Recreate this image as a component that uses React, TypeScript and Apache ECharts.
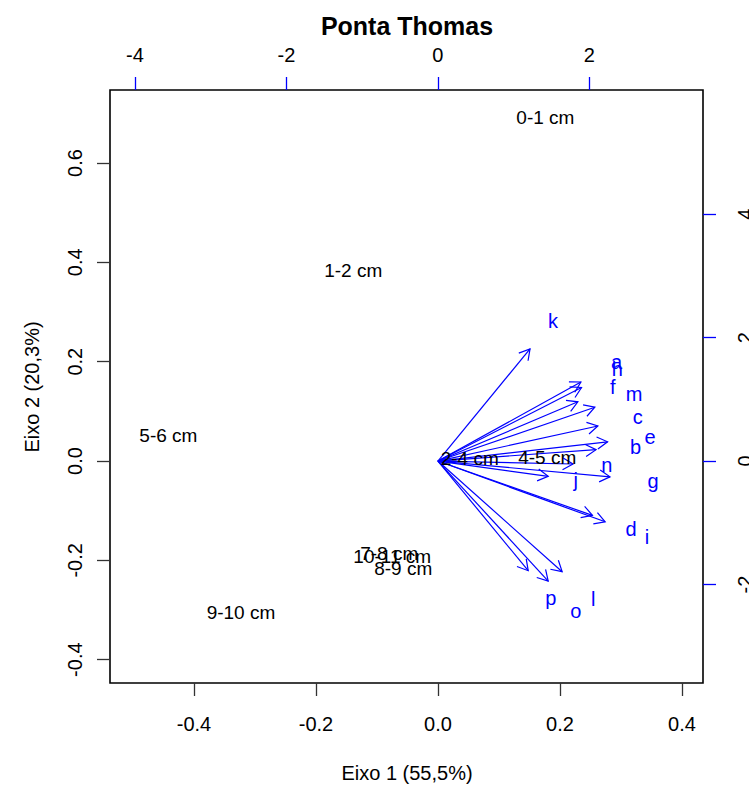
import React, { useEffect, useRef } from "react";
import * as echarts from "echarts";

// Sample scores (bottom / left axes)
const sampleNames = ["0-1 cm", "1-2 cm", "2-4 cm", "4-5 cm", "5-6 cm", "7-8 cm", "8-9 cm", "9-10 cm", "10-11 cm"];
const sampleX = [0.176, -0.139, 0.052, 0.179, -0.442, -0.08, -0.057, -0.323, -0.075];
const sampleY = [0.691, 0.383, 0.006, 0.008, 0.052, -0.186, -0.217, -0.306, -0.193];

// Variable loadings (top / right axes)
const varNames = ["a", "b", "c", "d", "e", "f", "g", "h", "i", "j", "k", "l", "m", "n", "o", "p"];
const varX = [2.36, 2.61, 2.64, 2.55, 2.8, 2.31, 2.84, 2.37, 2.76, 1.82, 1.52, 2.05, 2.59, 2.23, 1.82, 1.49];
const varY = [1.6, 0.23, 0.71, -1.1, 0.39, 1.2, -0.32, 1.49, -1.23, -0.31, 2.27, -2.24, 1.09, -0.06, -2.43, -2.22];

// Tick labels
const bottomTicks = [-0.4, -0.2, 0.0, 0.2, 0.4];
const leftTicks = [-0.4, -0.2, 0.0, 0.2, 0.4, 0.6];
const topTicks = [-4, -2, 0, 2];
const rightTicks = [-2, 0, 2, 4];

const FONT = "'Liberation Sans', Arial, Helvetica, sans-serif";
const BLUE = "#0000ff";

export default function App() {
  const ref = useRef<HTMLDivElement>(null);
  useEffect(() => {
    if (!ref.current) return;
    const chart = echarts.init(ref.current, null, { renderer: "svg" });
    const tickStyle = { color: "#333", width: 1.3 };
    const blueTick = { color: BLUE, width: 1.3 };
    const lbl = { color: "#000", fontSize: 20, fontFamily: FONT };
    const noLine = { show: false, onZero: false };
    chart.setOption({
      animation: false,
      backgroundColor: "#fff",
      grid: {
        left: 110,
        top: 90,
        width: 593,
        height: 593,
        containLabel: false,
        outerBoundsMode: "none",
        show: true,
        borderColor: "#000",
        borderWidth: 1.6,
        backgroundColor: "transparent",
      },
      xAxis: [
        {
          type: "value",
          position: "bottom",
          min: -0.5377,
          max: 0.4344,
          splitLine: { show: false },
          axisLine: noLine,
          axisTick: { show: true, length: 13, lineStyle: tickStyle, customValues: bottomTicks },
          axisLabel: {
            ...lbl,
            margin: 31,
            customValues: bottomTicks,
            formatter: (v: number) => v.toFixed(1),
          },
        },
        {
          type: "value",
          position: "top",
          min: -4.33,
          max: 3.5,
          splitLine: { show: false },
          axisLine: noLine,
          axisTick: { show: true, length: 13, lineStyle: blueTick, customValues: topTicks },
          axisLabel: { ...lbl, margin: 25, customValues: topTicks, formatter: (v: number) => String(v) },
        },
      ],
      yAxis: [
        {
          type: "value",
          position: "left",
          min: -0.447,
          max: 0.747,
          splitLine: { show: false },
          axisLine: noLine,
          axisTick: { show: true, length: 13, lineStyle: tickStyle, customValues: leftTicks },
          axisLabel: {
            ...lbl,
            rotate: 90,
            margin: 25,
            customValues: leftTicks,
            formatter: (v: number) => v.toFixed(1),
          },
        },
        {
          type: "value",
          position: "right",
          min: -3.595,
          max: 6.01,
          splitLine: { show: false },
          axisLine: noLine,
          axisTick: { show: true, length: 13, lineStyle: blueTick, customValues: rightTicks },
          axisLabel: { ...lbl, rotate: 90, margin: 32, customValues: rightTicks, formatter: (v: number) => String(v) },
        },
      ],
      graphic: [
        {
          type: "text",
          x: 407,
          y: 26,
          style: {
            text: "Ponta Thomas",
            fontSize: 25,
            fontWeight: "bold",
            fontFamily: FONT,
            fill: "#000",
            textAlign: "center",
            textVerticalAlign: "middle",
          },
        },
        {
          type: "text",
          x: 407,
          y: 773,
          style: {
            text: "Eixo 1 (55,5%)",
            fontSize: 20,
            fontFamily: FONT,
            fill: "#000",
            textAlign: "center",
            textVerticalAlign: "middle",
          },
        },
        {
          type: "text",
          x: 32,
          y: 387,
          rotation: Math.PI / 2,
          style: {
            text: "Eixo 2 (20,3%)",
            fontSize: 20,
            fontFamily: FONT,
            fill: "#000",
            textAlign: "center",
            textVerticalAlign: "middle",
          },
        },
      ],
      series: [
        {
          type: "custom",
          xAxisIndex: 1,
          yAxisIndex: 1,
          clip: false,
          z: 2,
          data: varX.map((x, i) => [x, varY[i]]),
          renderItem: (params: any, api: any) => {
            const x = api.value(0);
            const y = api.value(1);
            const o = api.coord([0, 0]);
            const t = api.coord([x * 0.8, y * 0.8]);
            const ang = Math.atan2(t[1] - o[1], t[0] - o[0]);
            const L = 12;
            const a = Math.PI / 6;
            const p1 = [t[0] - L * Math.cos(ang - a), t[1] - L * Math.sin(ang - a)];
            const p2 = [t[0] - L * Math.cos(ang + a), t[1] - L * Math.sin(ang + a)];
            return {
              type: "group",
              children: [
                {
                  type: "line",
                  shape: { x1: o[0], y1: o[1], x2: t[0], y2: t[1] },
                  style: { stroke: BLUE, lineWidth: 1.2 },
                },
                {
                  type: "polyline",
                  shape: { points: [p1, t, p2] },
                  style: { stroke: BLUE, fill: "none", lineWidth: 1.2 },
                },
              ],
            };
          },
        },
        {
          type: "scatter",
          xAxisIndex: 1,
          yAxisIndex: 1,
          symbolSize: 0,
          z: 4,
          itemStyle: { opacity: 1 },
          data: varNames.map((n, i) => ({ name: n, value: [varX[i], varY[i]] })),
          label: {
            show: true,
            position: "inside",
            formatter: "{b}",
            color: BLUE,
            fontSize: 20,
            fontFamily: FONT,
          },
          labelLayout: { hideOverlap: false },
        },
        {
          type: "scatter",
          xAxisIndex: 0,
          yAxisIndex: 0,
          symbolSize: 0,
          z: 5,
          itemStyle: { opacity: 1 },
          data: sampleNames.map((n, i) => ({ name: n, value: [sampleX[i], sampleY[i]] })),
          label: {
            show: true,
            position: "inside",
            formatter: "{b}",
            color: "#000",
            fontSize: 19,
            fontFamily: FONT,
          },
          labelLayout: { hideOverlap: false },
        },
      ],
    });
    return () => chart.dispose();
  }, []);
  return (
    <div
      ref={ref}
      style={{ position: "absolute", left: 0, top: 0, width: 749, height: 787, background: "#fff" }}
    />
  );
}
